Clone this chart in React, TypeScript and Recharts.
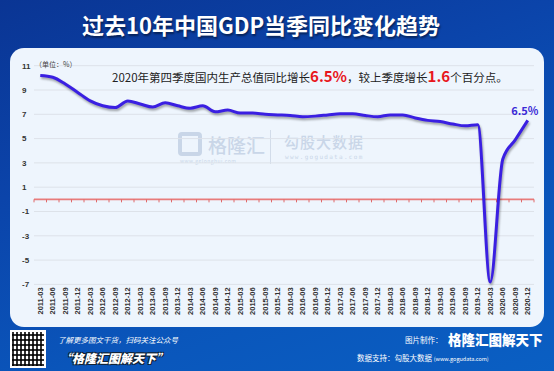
import { CartesianGrid, ComposedChart, LabelList, Line, ReferenceLine, XAxis, YAxis } from "recharts";

const quarters = [
  "2011-03", "2011-06", "2011-09", "2011-12",
  "2012-03", "2012-06", "2012-09", "2012-12",
  "2013-03", "2013-06", "2013-09", "2013-12",
  "2014-03", "2014-06", "2014-09", "2014-12",
  "2015-03", "2015-06", "2015-09", "2015-12",
  "2016-03", "2016-06", "2016-09", "2016-12",
  "2017-03", "2017-06", "2017-09", "2017-12",
  "2018-03", "2018-06", "2018-09", "2018-12",
  "2019-03", "2019-06", "2019-09", "2019-12",
  "2020-03", "2020-06", "2020-09", "2020-12",
];

const gdpGrowth = [
  10.2, 10.05, 9.5, 8.8,
  8.1, 7.7, 7.55, 8.1,
  7.85, 7.6, 7.95, 7.7,
  7.5, 7.7, 7.2, 7.35,
  7.1, 7.1, 7.0, 6.95,
  6.9, 6.8, 6.85, 6.95,
  7.05, 7.05, 6.9, 6.8,
  6.95, 6.95, 6.7, 6.5,
  6.4, 6.2, 6.05, 6.15,
  -6.8, 3.3, 4.9, 6.5,
];

const yTicks = [-7, -5, -3, -1, 1, 3, 5, 7, 9, 11];

const data = quarters.map((q, i) => ({ quarter: q, growth: gdpGrowth[i] }));

const FONT = '"Noto Sans CJK SC", "Noto Sans", sans-serif';

function XTick({ x, y, payload }: any) {
  return (
    <text
      transform={`translate(${x},${y}) rotate(-90)`}
      textAnchor="end"
      dominantBaseline="central"
      fontSize={7.5}
      fontWeight="bold"
      fill="#333"
      fontFamily='"Liberation Sans", Arial, sans-serif'
    >
      {payload.value}
    </text>
  );
}

function YTick({ x, y, payload }: any) {
  return (
    <text x={x} y={y} dy="0.35em" textAnchor="start" fontSize={8} fontWeight="bold" fill="#333" fontFamily='"Liberation Sans", Arial, sans-serif'>
      {payload.value}
    </text>
  );
}

// red zero line with small ticks at every category boundary
function ZeroLine(props: any) {
  const { x1, x2, y1 } = props;
  const left = Math.min(x1, x2);
  const right = Math.max(x1, x2);
  const n = quarters.length;
  const step = (right - left) / n;
  const marks = [];
  for (let i = 0; i <= n; i++) {
    const tx = left + i * step;
    marks.push(<line key={i} x1={tx} x2={tx} y1={y1} y2={y1 + 3} stroke="#e06a6a" strokeWidth={1} />);
  }
  return (
    <g>
      <line x1={left} x2={right} y1={y1} y2={y1} stroke="#e87c7c" strokeWidth={1.6} />
      {marks}
    </g>
  );
}

function LastLabel({ x, y, index, value }: any) {
  if (index !== quarters.length - 1) return null;
  return (
    <text x={x - 3} y={y - 5} textAnchor="middle" fontSize={11} fontWeight="bold" fill="#3a2ad6" fontFamily={FONT}>
      {value}%
    </text>
  );
}

export default function App() {
  return (
    <div
      style={{
        position: "absolute",
        left: 0,
        top: 0,
        width: 554,
        height: 371,
        overflow: "hidden",
        fontFamily: FONT,
        background: "linear-gradient(160deg, #0a3594 0%, #0b44aa 35%, #0a56bb 70%, #0a5fc3 100%)",
      }}
    >
      <style>{`.gdp-line .recharts-line-curve { filter: drop-shadow(1px 2px 1.2px rgba(0,0,0,0.35)); }`}</style>
      <div
        style={{
          position: "absolute",
          left: 0,
          top: 0,
          width: 522,
          height: 48,
          textAlign: "center",
          lineHeight: "48px",
          color: "#fff",
          fontSize: 22,
          fontWeight: 700,
          textShadow: "1px 2px 2px rgba(0,0,0,0.45)",
        }}
      >
        过去10年中国GDP当季同比变化趋势
      </div>
      <div
        style={{
          position: "absolute",
          left: 10,
          top: 48,
          width: 534,
          height: 279,
          background: "#eef5fd",
          borderRadius: 14,
        }}
      />
      {/* watermarks */}
      <div style={{ position: "absolute", left: 178, top: 132, width: 24, height: 24, border: "4px solid #c9d6e8", borderRadius: 4, boxSizing: "border-box" }} />
      <div style={{ position: "absolute", left: 208, top: 131, fontSize: 19, color: "#c9d6e8", fontWeight: 500, whiteSpace: "nowrap" }}>格隆汇</div>
      <div style={{ position: "absolute", left: 180, top: 157, fontSize: 5, color: "#c9d6e8", whiteSpace: "nowrap", letterSpacing: 0.5 }}>www.gelonghui.com</div>
      <div style={{ position: "absolute", left: 270, top: 130, width: 1, height: 34, background: "#d2dcea" }} />
      <div style={{ position: "absolute", left: 284, top: 131, fontSize: 15, color: "#c9d6e8", fontWeight: 500, whiteSpace: "nowrap", letterSpacing: 1 }}>勾股大数据</div>
      <div style={{ position: "absolute", left: 285, top: 153, fontSize: 6, color: "#c9d6e8", whiteSpace: "nowrap", letterSpacing: 1.3, fontFamily: '"DejaVu Sans Mono", monospace' }}>www.gogudata.com</div>

      <div style={{ position: "absolute", left: 0, top: 0 }}>
        <ComposedChart width={554} height={371} data={data} margin={{ top: 65.7, right: 20, left: 10, bottom: 46.6 }}>
          <CartesianGrid vertical={false} stroke="#dde2e9" strokeWidth={1} />
          <XAxis
            dataKey="quarter"
            interval={0}
            padding={{ left: 6.25, right: 6.25 }}
            tickLine={false}
            axisLine={false}
            tickSize={0}
            tickMargin={3}
            height={40}
            tick={<XTick />}
          />
          <YAxis
            domain={[-7, 11]}
            ticks={yTicks}
            interval={0}
            tickLine={false}
            axisLine={false}
            tickSize={0}
            tickMargin={12}
            width={24}
            tick={<YTick />}
          />
          <ReferenceLine y={0} shape={<ZeroLine />} />
          <Line
            className="gdp-line"
            type="monotone"
            dataKey="growth"
            stroke="#3a1fe2"
            strokeWidth={3}
            dot={false}
            isAnimationActive={false}
          >
            <LabelList dataKey="growth" content={<LastLabel />} />
          </Line>
        </ComposedChart>
      </div>

      <div style={{ position: "absolute", left: 35, top: 59, fontSize: 7, color: "#444", whiteSpace: "nowrap" }}>（单位：%）</div>
      <div
        style={{
          position: "absolute",
          left: 112,
          top: 66,
          fontSize: 11.5,
          color: "#222",
          whiteSpace: "nowrap",
          lineHeight: "20px",
        }}
      >
        2020年第四季度国内生产总值同比增长
        <span style={{ color: "#e8161c", fontWeight: 700, fontSize: 15 }}>6.5%</span>
        ，较上季度增长
        <span style={{ color: "#e8161c", fontWeight: 700, fontSize: 15 }}>1.6</span>
        个百分点。
      </div>

      {/* footer */}
      <div
        style={{
          position: "absolute",
          left: 10,
          top: 330,
          width: 36,
          height: 38,
          background: "#fff",
          backgroundImage:
            "repeating-linear-gradient(90deg, #333 0 2px, transparent 2px 4px), repeating-linear-gradient(0deg, #333 0 2px, transparent 2px 5px)",
          backgroundBlendMode: "multiply",
          border: "2px solid #fff",
          boxSizing: "border-box",
        }}
      />
      <div style={{ position: "absolute", left: 58, top: 334, fontSize: 7.5, color: "#fff", fontStyle: "italic", whiteSpace: "nowrap" }}>
        了解更多图文干货，扫码关注公众号
      </div>
      <div
        style={{
          position: "absolute",
          left: 60,
          top: 349,
          fontSize: 12,
          color: "#fff",
          fontWeight: 900,
          fontStyle: "italic",
          whiteSpace: "nowrap",
          textShadow: "1px 1px 0 #123, -1px -1px 0 #123, 1px -1px 0 #123, -1px 1px 0 #123",
        }}
      >
        “格隆汇图解天下”
      </div>
      <div style={{ position: "absolute", left: 405, top: 334, fontSize: 7.5, color: "#fff", whiteSpace: "nowrap" }}>图片制作：</div>
      <div style={{ position: "absolute", left: 448, top: 329, fontSize: 13.5, color: "#fff", fontWeight: 900, whiteSpace: "nowrap" }}>
        格隆汇图解天下
      </div>
      <div style={{ position: "absolute", left: 357, top: 352, fontSize: 7.5, color: "#fff", whiteSpace: "nowrap" }}>
        数据支持：勾股大数据 <span style={{ fontSize: 5.5 }}>(www.gogudata.com)</span>
      </div>
    </div>
  );
}
